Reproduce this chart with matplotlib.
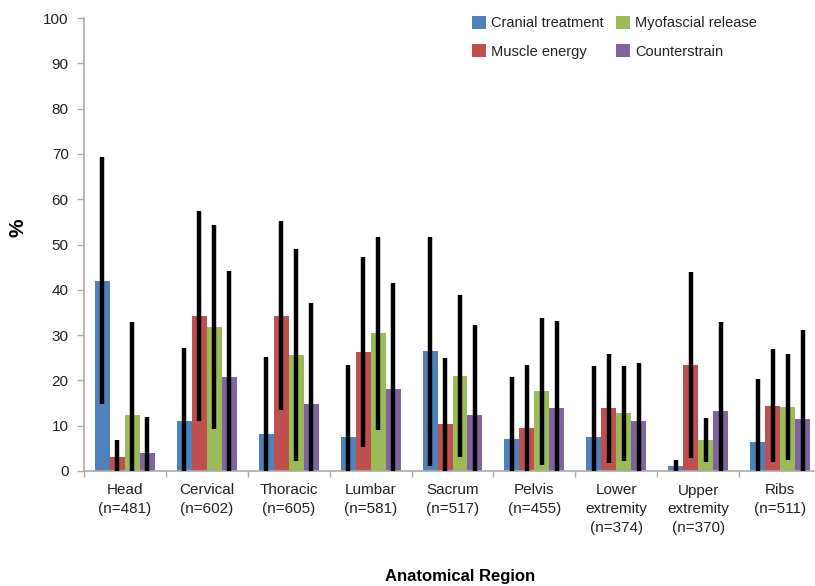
import numpy as np
import matplotlib
matplotlib.use("Agg")
import matplotlib.pyplot as plt
from matplotlib.patches import Patch

plt.rcParams["font.family"] = ["Liberation Sans", "DejaVu Sans"]

regions = ["Head\n(n=481)", "Cervical\n(n=602)", "Thoracic\n(n=605)", "Lumbar\n(n=581)",
           "Sacrum\n(n=517)", "Pelvis\n(n=455)", "Lower\nextremity\n(n=374)",
           "Upper\nextremity\n(n=370)", "Ribs\n(n=511)"]
treatments = ["Cranial treatment", "Muscle energy", "Myofascial release", "Counterstrain"]
colors = ["#4F81BD", "#C0504D", "#9BBB59", "#8064A2"]

cranial = [42.0, 11.0, 8.2, 7.6, 26.4, 7.1, 7.6, 1.0, 6.5]
cranial_sd = [27.3, 16.2, 17.0, 15.9, 25.3, 13.7, 15.6, 1.4, 13.7]
muscle = [3.1, 34.3, 34.3, 26.2, 10.4, 9.6, 13.8, 23.4, 14.4]
muscle_sd = [3.7, 23.2, 20.9, 21.0, 14.6, 13.7, 12.0, 20.5, 12.5]
myofascial = [12.4, 31.7, 25.6, 30.4, 21.0, 17.6, 12.7, 6.8, 14.1]
myofascial_sd = [20.6, 22.5, 23.5, 21.3, 17.9, 16.2, 10.5, 4.8, 11.7]
counter = [3.9, 20.8, 14.9, 18.0, 12.4, 14.0, 11.1, 13.3, 11.4]
counter_sd = [8.0, 23.4, 22.2, 23.4, 19.8, 19.2, 12.7, 19.7, 19.7]

means = [cranial, muscle, myofascial, counter]
sds = [cranial_sd, muscle_sd, myofascial_sd, counter_sd]

fig = plt.figure(figsize=(8.15, 5.86), dpi=100)
ax = fig.add_axes([84 / 815, 115 / 586, 737 / 815, 453 / 586])

x = np.arange(len(regions))
width = 0.183
for i, (m, s, c) in enumerate(zip(means, sds, colors)):
    pos = x + (i - 1.5) * width
    ax.bar(pos, m, width, color=c, edgecolor="none", zorder=2)
    ax.errorbar(pos, m, yerr=s, fmt="none", ecolor="black", elinewidth=3.2,
                capsize=0, zorder=3)

ax.set_xlim(-0.5, len(regions) - 0.5)
ax.set_ylim(0, 100)
ax.set_yticks(np.arange(0, 101, 10))
ax.set_xticks(x)
ax.set_xticklabels(regions, fontsize=11, color="#222222", linespacing=1.45)
ax.set_xticks(np.arange(-0.5, len(regions), 1), minor=True)
ax.tick_params(axis="x", which="major", length=0, pad=9)
ax.tick_params(axis="x", which="minor", length=4, color="#aaaaaa", width=1)
ax.tick_params(axis="y", length=5, color="#aaaaaa", width=1, labelsize=11,
               labelcolor="#222222", pad=6)

for side in ["top", "right"]:
    ax.spines[side].set_visible(False)
for side in ["left", "bottom"]:
    ax.spines[side].set_color("#aaaaaa")
    ax.spines[side].set_linewidth(1.2)

fig.text(18 / 815, 1 - 228 / 586, "%", rotation=90, fontsize=15, fontweight="bold",
         ha="center", va="center")
fig.text(460 / 815, 1 - 577 / 586, "Anatomical Region", fontsize=12,
         fontweight="bold", ha="center", va="center")

handles = [Patch(facecolor=c, edgecolor="none", label=t) for t, c in zip(treatments, colors)]
fig.legend(handles=handles, loc="upper left", bbox_to_anchor=(459 / 815, 1 - 3 / 586),
           ncol=2, frameon=False, fontsize=10.5, handlelength=0.95, handleheight=0.95,
           handletextpad=0.35, columnspacing=0.85, labelspacing=0.95,
           labelcolor="#222222")

fig.savefig("out.png", dpi=100)
